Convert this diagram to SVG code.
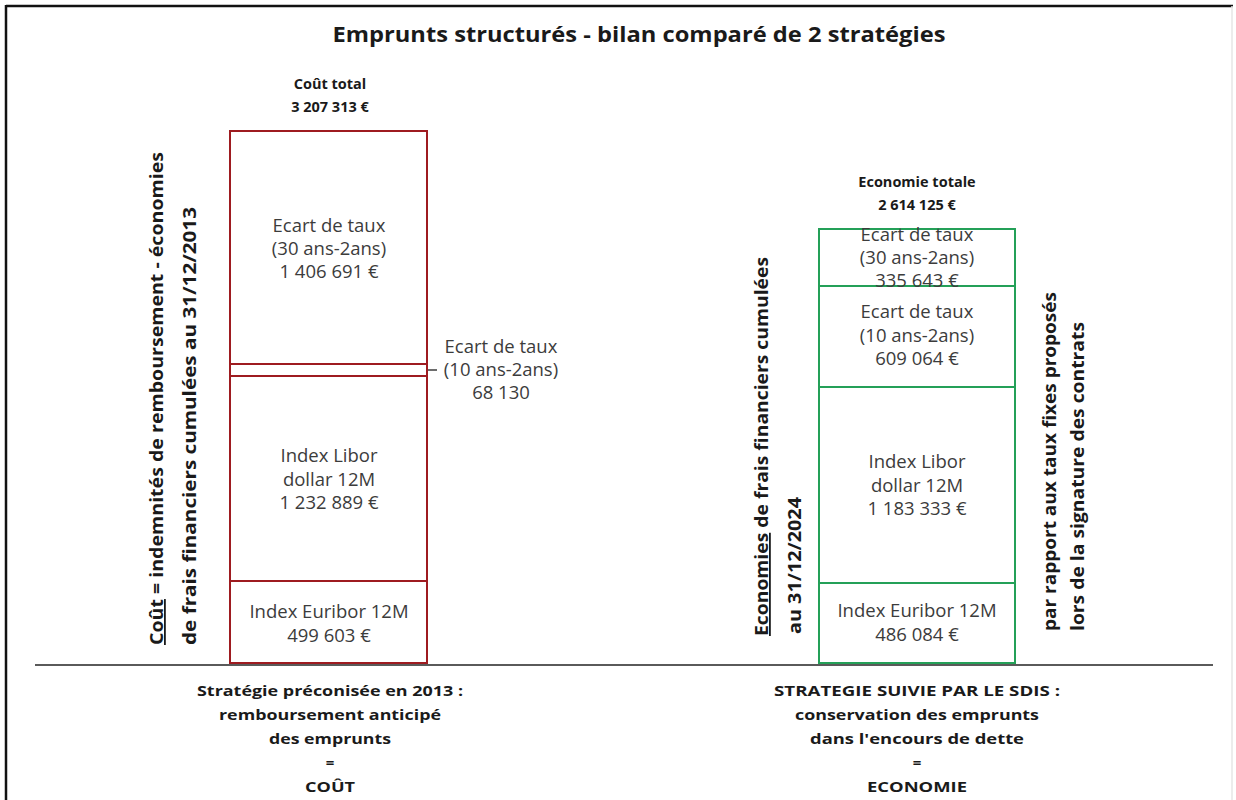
<svg xmlns="http://www.w3.org/2000/svg" width="1236" height="800" viewBox="0 0 1236 800">
<style>
.t{font-family:"Open Sans","Liberation Sans",sans-serif;font-weight:bold;fill:#1a1a1a;text-anchor:middle}
.b{font-family:"Open Sans","Liberation Sans",sans-serif;font-size:18.5px;fill:#3c3c3c;text-anchor:middle}
.v{font-family:"Open Sans","Liberation Sans",sans-serif;font-weight:bold;font-size:18px;fill:#1a1a1a}
.red{fill:none;stroke:#9e1b20;stroke-width:2}
.grn{fill:none;stroke:#24a058;stroke-width:2}
</style>
<rect width="1236" height="800" fill="#ffffff"/>
<g id="frame">
<line x1="6" y1="6" x2="1233" y2="6" stroke="#111" stroke-width="2.5"/>
<line x1="6" y1="5" x2="6" y2="800" stroke="#111" stroke-width="2.5"/>
<line x1="1232" y1="6" x2="1232" y2="800" stroke="#e6e6e6" stroke-width="1.5"/>
</g>
<text id="title" class="t" x="639" y="42" font-size="21" textLength="613" lengthAdjust="spacingAndGlyphs">Emprunts structurés - bilan comparé de 2 stratégies</text>
<line id="axis" x1="35" y1="665" x2="1213" y2="665" stroke="#5a5a5a" stroke-width="2"/>

<g id="cout-total">
<text class="t" x="330" y="89" font-size="14.5">Coût total</text>
<text class="t" x="330" y="112" font-size="14.5">3 207 313 €</text>
</g>
<g id="left-bar">
<rect class="red" x="230" y="131" width="197" height="532"/>
<line class="red" x1="230" y1="364" x2="427" y2="364"/>
<line class="red" x1="230" y1="376" x2="427" y2="376"/>
<line class="red" x1="230" y1="581" x2="427" y2="581"/>
</g>
<g id="left-ecart30">
<text class="b" x="329" y="232">Ecart de taux</text>
<text class="b" x="329" y="255">(30 ans-2ans)</text>
<text class="b" x="329" y="278">1 406 691 €</text>
</g>
<g id="left-ecart10">
<text class="b" x="501" y="353">Ecart de taux</text>
<text class="b" x="501" y="376">(10 ans-2ans)</text>
<text class="b" x="501" y="399">68 130</text>
</g>
<g id="connectors">
<line x1="428" y1="370" x2="437" y2="370" stroke="#3c3c3c" stroke-width="1.5"/>
</g>
<g id="left-libor">
<text class="b" x="329" y="462">Index Libor</text>
<text class="b" x="329" y="486">dollar 12M</text>
<text class="b" x="329" y="509">1 232 889 €</text>
</g>
<g id="left-euribor">
<text class="b" x="329" y="618">Index Euribor 12M</text>
<text class="b" x="329" y="642">499 603 €</text>
</g>
<g id="left-vlabel">
<text class="v" transform="translate(163 645) rotate(-90)" textLength="493" lengthAdjust="spacingAndGlyphs"><tspan text-decoration="underline">Coût</tspan> = indemnités de remboursement - économies</text>
<text class="v" transform="translate(196 645) rotate(-90)" textLength="438" lengthAdjust="spacingAndGlyphs">de frais financiers  cumulées au 31/12/2013</text>
</g>
<g id="left-caption">
<text class="t" x="330" y="696" font-size="15" textLength="266" lengthAdjust="spacingAndGlyphs">Stratégie préconisée en 2013 :</text>
<text class="t" x="330" y="720" font-size="15" textLength="222" lengthAdjust="spacingAndGlyphs">remboursement anticipé</text>
<text class="t" x="330" y="744" font-size="15" textLength="122" lengthAdjust="spacingAndGlyphs">des emprunts</text>
<text class="t" x="330" y="768" font-size="15">=</text>
<text class="t" x="330" y="792" font-size="15" textLength="50" lengthAdjust="spacingAndGlyphs">COÛT</text>
</g>

<g id="economie-totale">
<text class="t" x="917" y="187" font-size="14.5">Economie totale</text>
<text class="t" x="917" y="210" font-size="14.5">2 614 125 €</text>
</g>
<g id="right-bar">
<rect class="grn" x="819" y="229" width="196" height="434"/>
<line class="grn" x1="819" y1="286" x2="1015" y2="286"/>
<line class="grn" x1="819" y1="387" x2="1015" y2="387"/>
<line class="grn" x1="819" y1="583" x2="1015" y2="583"/>
</g>
<g id="right-ecart30">
<text class="b" x="917" y="241">Ecart de taux</text>
<text class="b" x="917" y="264">(30 ans-2ans)</text>
<text class="b" x="917" y="287">335 643 €</text>
</g>
<g id="right-ecart10">
<text class="b" x="917" y="318">Ecart de taux</text>
<text class="b" x="917" y="342">(10 ans-2ans)</text>
<text class="b" x="917" y="365">609 064 €</text>
</g>
<g id="right-libor">
<text class="b" x="917" y="468">Index Libor</text>
<text class="b" x="917" y="492">dollar 12M</text>
<text class="b" x="917" y="515">1 183 333 €</text>
</g>
<g id="right-euribor">
<text class="b" x="917" y="617">Index Euribor 12M</text>
<text class="b" x="917" y="641">486 084 €</text>
</g>
<g id="right-vlabel-left">
<text class="v" transform="translate(768 636) rotate(-90)" textLength="379" lengthAdjust="spacingAndGlyphs"><tspan text-decoration="underline">Economies</tspan> de frais financiers cumulées</text>
<text class="v" transform="translate(801 634) rotate(-90)" textLength="137" lengthAdjust="spacingAndGlyphs">au 31/12/2024</text>
</g>
<g id="right-vlabel-right">
<text class="v" transform="translate(1056 631) rotate(-90)" textLength="339" lengthAdjust="spacingAndGlyphs">par rapport aux taux fixes proposés</text>
<text class="v" transform="translate(1084 631) rotate(-90)" textLength="309" lengthAdjust="spacingAndGlyphs">lors de la signature des contrats</text>
</g>
<g id="right-caption">
<text class="t" x="917" y="696" font-size="15" textLength="286" lengthAdjust="spacingAndGlyphs">STRATEGIE SUIVIE PAR LE SDIS :</text>
<text class="t" x="917" y="720" font-size="15" textLength="244" lengthAdjust="spacingAndGlyphs">conservation des emprunts</text>
<text class="t" x="917" y="744" font-size="15" textLength="214" lengthAdjust="spacingAndGlyphs">dans l'encours de dette</text>
<text class="t" x="917" y="768" font-size="15">=</text>
<text class="t" x="917" y="792" font-size="15" textLength="100" lengthAdjust="spacingAndGlyphs">ECONOMIE</text>
</g>
</svg>
